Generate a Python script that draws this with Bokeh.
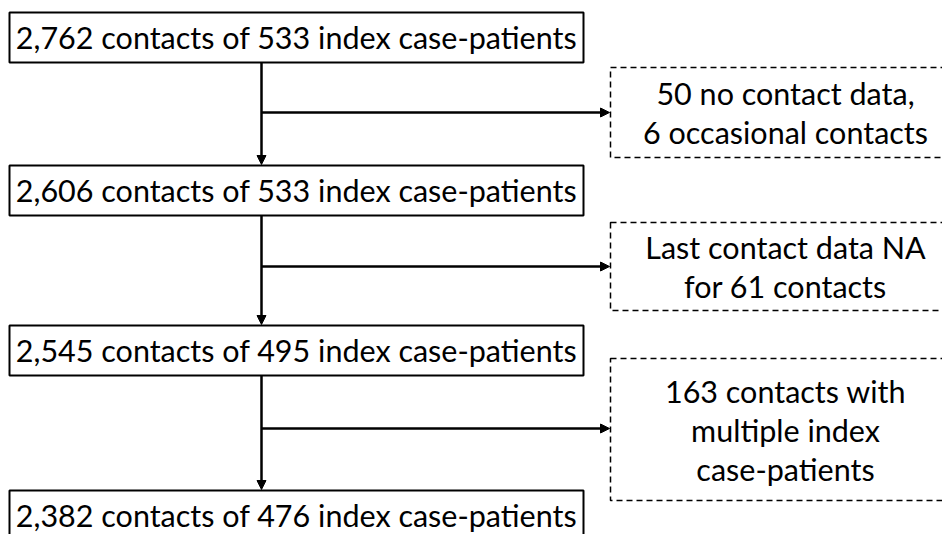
from bokeh.plotting import figure
from bokeh.models import Range1d, Arrow, NormalHead
from bokeh.core.properties import value
from bokeh.embed import file_html
from bokeh.resources import INLINE

# ---- data ----
main_contacts = [2762, 2606, 2545, 2382]
main_index = [533, 533, 495, 476]
excluded_labels = [
    ["50 no contact data,", "6 occasional contacts"],
    ["Last contact data NA", "for 61 contacts"],
    ["163 contacts with", "multiple index", "case-patients"],
]

# ---- layout (pixel-like coordinates, y downward) ----
main_left, main_right = 9, 583
main_tops = [12, 165, 325, 490]
main_h = 50
stem_x = 261
ex_left, ex_right = 610, 965
ex_tops = [67, 222, 358]
ex_bottoms = [157, 310, 500]
branch_y = [112, 266, 428]
line_gap = 39
FONT = value("Lato")
FS = "30.5px"

p = figure(frame_width=942, frame_height=534, output_backend="svg", toolbar_location=None,
           x_range=Range1d(0, 942), y_range=Range1d(534, 0),
           min_border=0, min_border_left=0, min_border_right=0,
           min_border_top=0, min_border_bottom=0,
           x_axis_type=None, y_axis_type=None)
p.grid.visible = False
p.outline_line_color = None
p.background_fill_color = "white"
p.border_fill_color = "white"

# main boxes
p.quad(left=[main_left] * 4, right=[main_right] * 4,
       top=main_tops, bottom=[t + main_h for t in main_tops],
       fill_color="white", line_color="black", line_width=2)
labels = [f"{c:,} contacts of {i} index case-patients" for c, i in zip(main_contacts, main_index)]
p.text(x=[(main_left + main_right) / 2] * 4, y=[t + main_h / 2 - 1 for t in main_tops], text=labels,
       text_align="center", text_baseline="middle", text_font=FONT, text_font_size=FS,
       text_color="black")

# exclusion boxes
p.quad(left=[ex_left] * 3, right=[ex_right] * 3, top=ex_tops, bottom=ex_bottoms,
       fill_color="white", line_color="black", line_width=1.5, line_dash="6 4")
xs, ys, ts = [], [], []
cx = 785
for top, bot, lines in zip(ex_tops, ex_bottoms, excluded_labels):
    mid = (top + bot) / 2
    n = len(lines)
    for k, ln in enumerate(lines):
        xs.append(cx)
        ys.append(mid + (k - (n - 1) / 2) * line_gap)
        ts.append(ln)
p.text(x=xs, y=ys, text=ts, text_align="center", text_baseline="middle",
       text_font=FONT, text_font_size=FS, text_color="black")

# arrows
for i in range(3):
    p.add_layout(Arrow(end=NormalHead(size=9, fill_color="black", line_color="black"),
                       x_start=stem_x, y_start=main_tops[i] + main_h,
                       x_end=stem_x, y_end=main_tops[i + 1] - 1,
                       line_color="black", line_width=2.5))
    p.add_layout(Arrow(end=NormalHead(size=9, fill_color="black", line_color="black"),
                       x_start=stem_x, y_start=branch_y[i],
                       x_end=ex_left - 1, y_end=branch_y[i],
                       line_color="black", line_width=2.5))

open("out.html", "w").write(file_html(p, INLINE))
